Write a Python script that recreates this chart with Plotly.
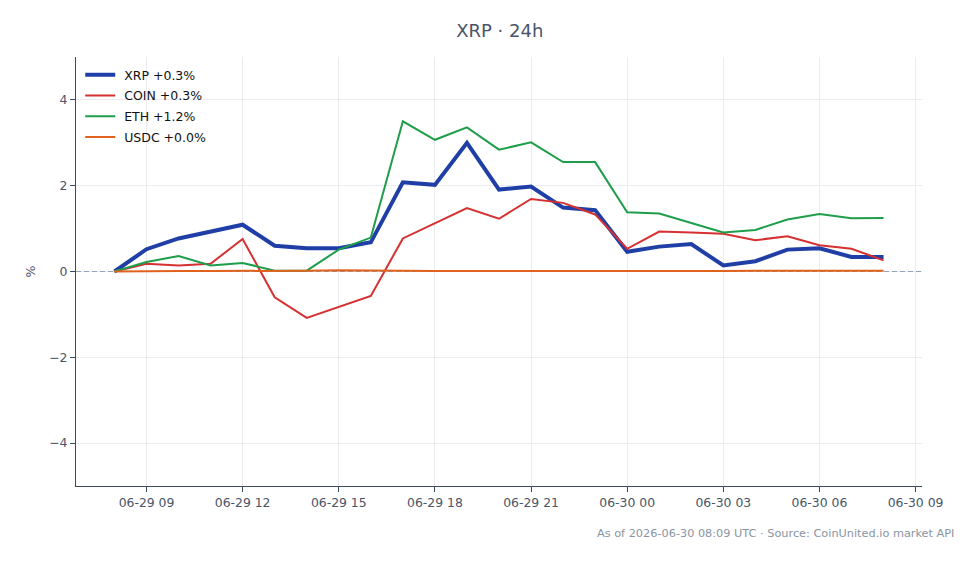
import plotly.graph_objects as go
import pandas as pd

times = pd.date_range("2026-06-29 08:00", "2026-06-30 08:00", freq="h")

xrp = [0.0, 0.52, 0.77, 0.93, 1.09, 0.60, 0.54, 0.54, 0.68, 2.08, 2.02, 3.00, 1.91, 1.98, 1.49,
       1.43, 0.46, 0.58, 0.64, 0.14, 0.24, 0.51, 0.54, 0.34, 0.34]
coin = [0.0, 0.18, 0.14, 0.18, 0.76, -0.60, -1.08, -0.83, -0.57, 0.77, 1.13, 1.48, 1.23, 1.69, 1.60,
        1.33, 0.53, 0.93, 0.91, 0.88, 0.73, 0.82, 0.61, 0.53, 0.26]
eth = [0.0, 0.22, 0.36, 0.14, 0.20, 0.02, 0.02, 0.51, 0.79, 3.50, 3.07, 3.36, 2.84, 3.01, 2.55,
       2.55, 1.38, 1.35, 1.13, 0.91, 0.97, 1.21, 1.34, 1.24, 1.25]
usdc = [0.0, 0.01, 0.01, 0.01, 0.01, 0.01, 0.02, 0.03, 0.02, 0.01, 0.01, 0.01, 0.01, 0.01, 0.01,
        0.01, 0.0, 0.0, 0.0, 0.01, 0.02, 0.02, 0.02, 0.02, 0.02]

series = [
    ("XRP +0.3%", xrp, "#1f3fa6", 4),
    ("COIN +0.3%", coin, "#d63031", 2),
    ("ETH +1.2%", eth, "#1e9e4a", 2),
    ("USDC +0.0%", usdc, "#e0621c", 2),
]

y_ticks = [-4, -2, 0, 2, 4]
y_ticktext = ["\u22124", "\u22122", "0", "2", "4"]

x_range = [pd.Timestamp("2026-06-29 06:48"), pd.Timestamp("2026-06-30 09:12")]

fig = go.Figure()
# zero reference line across the whole axis
fig.add_trace(go.Scatter(x=x_range, y=[0, 0], mode="lines", showlegend=False,
                         hoverinfo="skip", line=dict(color="#94a3b8", width=1.2, dash="5px,3px")))
for i, (name, vals, color, w) in enumerate(series):
    fig.add_trace(go.Scatter(x=times, y=vals, mode="lines", name="\u00a0" + name,
                             legendgroup=f"g{i}",
                             line=dict(color=color, width=w)))

axis_col = "#3d4a5c"
fig.update_layout(
    width=980, height=564,
    margin=dict(l=76, r=58, t=57, b=78),
    paper_bgcolor="white", plot_bgcolor="white",
    font=dict(family="DejaVu Sans", size=12, color="#4a5568"),
    title=dict(text="XRP · 24h", x=0.51, xanchor="center", y=0.945, yanchor="middle",
               font=dict(size=18, color="#4a5568")),
    showlegend=True,
    legend=dict(x=0.005, y=0.993, xanchor="left", yanchor="top", bgcolor="rgba(255,255,255,0)",
                font=dict(size=12.5, color="#111111"), itemwidth=30, tracegroupgap=1.5),
    xaxis=dict(
        range=x_range,
        tick0=pd.Timestamp("2026-06-29 09:00"), dtick=3 * 3600 * 1000,
        tickformat="%m-%d %H", showgrid=True, gridcolor="#ececf0", gridwidth=1,
        showline=True, linecolor=axis_col, linewidth=1.2,
        ticks="outside", ticklen=5, tickcolor=axis_col, zeroline=False,
        tickfont=dict(size=12.4, color="#4a5568"),
    ),
    yaxis=dict(
        range=[-5, 5], tickvals=y_ticks, ticktext=y_ticktext,
        showgrid=True, gridcolor="#ececf0", gridwidth=1,
        showline=True, linecolor=axis_col, linewidth=1.2,
        ticks="outside", ticklen=5, tickcolor=axis_col, zeroline=False,
        title=dict(text="%", standoff=10, font=dict(size=12.5, color="#4a5568")),
        tickfont=dict(size=12.4, color="#4a5568"),
    ),
    annotations=[dict(
        text="As of 2026-06-30 08:09 UTC · Source: CoinUnited.io market API",
        xref="paper", yref="paper", x=1.04, y=-0.11, xanchor="right", yanchor="middle",
        showarrow=False, font=dict(size=11.3, color="#8a94a3"),
    )],
)

fig.write_html("out.html")
